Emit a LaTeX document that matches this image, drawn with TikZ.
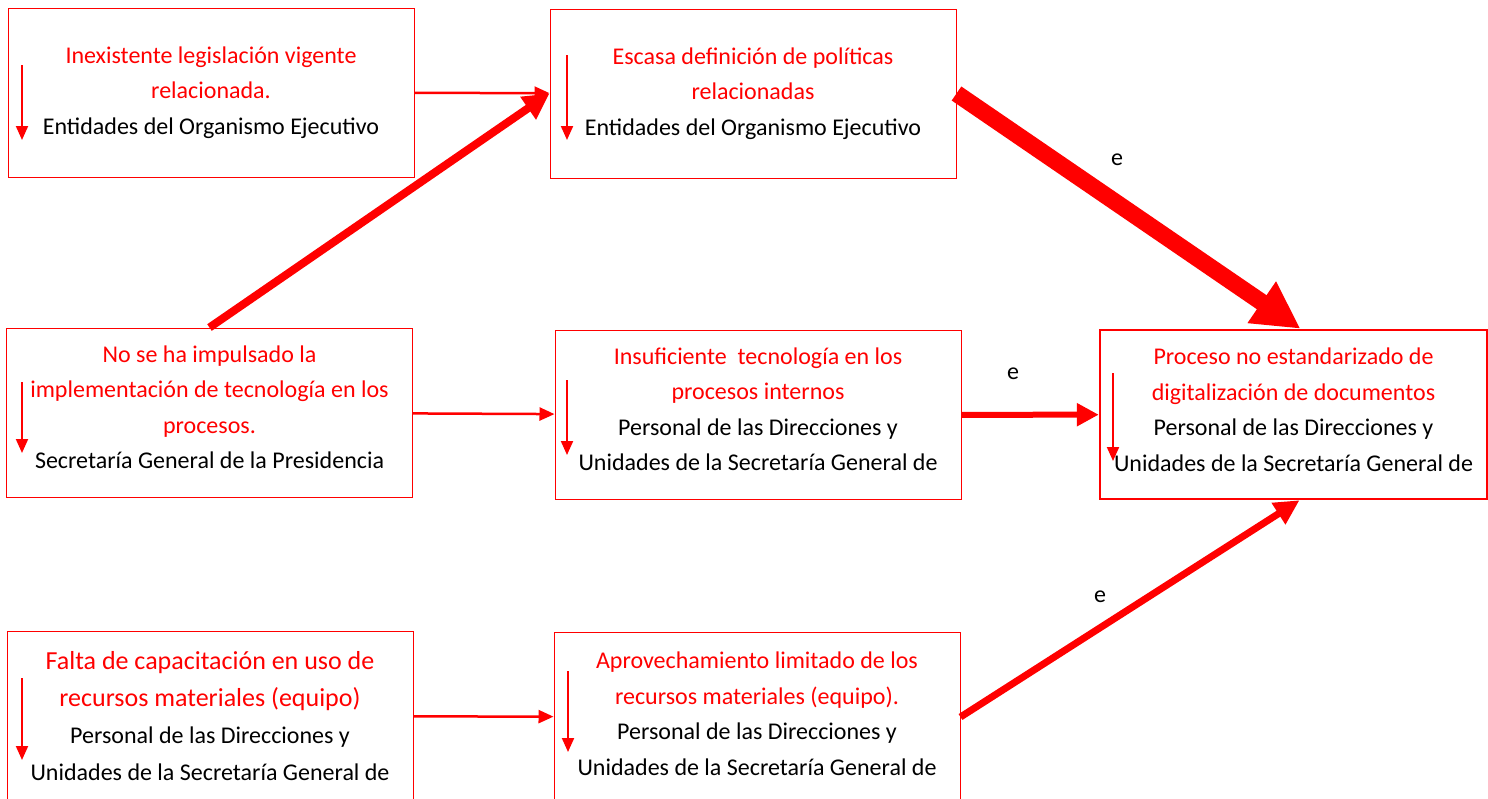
\documentclass[tikz,border=0pt]{standalone}
\usepackage{fontspec}
\setmainfont{Carlito}
\usetikzlibrary{arrows.meta,positioning}

\begin{document}
\begin{tikzpicture}[x=1pt,y=-1pt]
\tikzstyle{every node}+=[inner sep=0pt]
\tikzstyle{box}=[draw=red,line width=1pt,minimum width=406pt,minimum height=169pt,align=center,font=\fontsize{24}{35.5}\selectfont]
\tikzstyle{link}=[red,line width=2.5pt,-{Triangle[length=15pt,width=13pt]}]
\tikzstyle{inarrow}=[red,line width=2pt,-{Triangle[length=14pt,width=12pt]}]
\tikzstyle{lbl}=[font=\fontsize{24}{29}\selectfont]
\useasboundingbox (0,0) rectangle (1488,798);
\clip (0,0) rectangle (1488,798);
\node[box] (leg) at (211,92.5) {\textcolor{red}{Inexistente legislación vigente}\\
  \textcolor{red}{relacionada.}\\ Entidades del Organismo Ejecutivo};
\node[box] (pol) at (753,93.5) {\textcolor{red}{Escasa definición de políticas}\\
  \textcolor{red}{relacionadas}\\ Entidades del Organismo Ejecutivo};
\node[box,text depth=11pt] (imp) at (209.5,412.5) {\textcolor{red}{No se ha impulsado la}\\
  \textcolor{red}{implementación de tecnología en los}\\ \textcolor{red}{procesos.}\\
  Secretaría General de la Presidencia};
\node[box,text depth=12pt] (tec) at (758,415) {\textcolor{red}{Insuficiente~ tecnología en los}\\
  \textcolor{red}{procesos internos}\\ Personal de las Direcciones y\\
  Unidades de la Secretaría General de};
\node[box,text depth=10pt,line width=2.5pt,minimum width=387pt] (dig) at (1293.5,414.5) {\textcolor{red}{Proceso no estandarizado de}\\
  \textcolor{red}{digitalización de documentos}\\ Personal de las Direcciones y\\
  Unidades de la Secretaría General de};
\node[box,font=\fontsize{24}{37}\selectfont] (cap) at (210,716) {\textcolor{red}{\fontsize{26}{37}\selectfont Falta de capacitación en uso de}\\
  \textcolor{red}{\fontsize{26}{37}\selectfont recursos materiales (equipo)}\\ Personal de las Direcciones y\\
  Unidades de la Secretaría General de};
\node[box,text depth=7pt] (apr) at (757,717) {\textcolor{red}{Aprovechamiento limitado de los}\\
  \textcolor{red}{recursos materiales (equipo).}\\ Personal de las Direcciones y\\
  Unidades de la Secretaría General de};
\node[lbl] (e1) at (1117,160) {e};
\node[lbl] (e2) at (1013,374) {e};
\node[lbl] (e3) at (1100,597) {e};
\draw[link] (leg) -- (pol);
\draw[red,line width=8pt,-{Triangle[length=26pt,width=26pt]}] (imp.north) -- (pol.west);
\draw[red,line width=17pt,-{Triangle[length=47pt,width=47pt]}] (pol.east) -- ([xshift=7pt]dig.north);
\draw[link] (imp) -- (tec);
\draw[red,line width=6pt,-{Triangle[length=22pt,width=22pt]}] (tec) -- (dig);
\draw[link] (cap) -- (apr);
\draw[red,line width=7pt,-{Triangle[length=25pt,width=24pt]}] (apr.east) -- ([xshift=6pt]dig.south);
\draw[inarrow] (22,65) -- (22,140);
\draw[inarrow] (567,55) -- (567,140);
\draw[inarrow] (22,382) -- (22,453);
\draw[inarrow] (567,380) -- (567,455);
\draw[inarrow] (1113,373) -- (1113,461);
\draw[inarrow] (22,678) -- (22,760);
\draw[inarrow] (568,671) -- (568,752);
\end{tikzpicture}
\end{document}
